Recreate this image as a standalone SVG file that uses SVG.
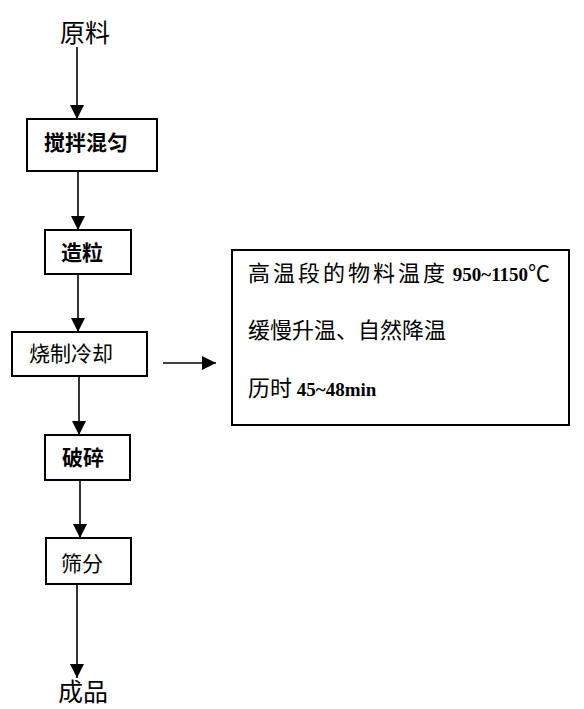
<svg xmlns="http://www.w3.org/2000/svg" width="584" height="709" viewBox="0 0 584 709">
<style>
.box{fill:#fff;stroke:#000;stroke-width:2}
.lbl{font-family:"Noto Sans CJK SC","Liberation Serif",serif;font-size:21px;fill:#000}
.big{font-family:"Noto Sans CJK SC","Liberation Serif",serif;font-size:25px;fill:#000}
.note{font-family:"Liberation Serif","Noto Sans CJK SC",serif;font-size:19px;font-weight:bold;fill:#000}
.cn{font-family:"Noto Sans CJK SC",sans-serif;font-size:22px;font-weight:normal}
.edge{stroke:#000;stroke-width:1.6;fill:none}
</style>
<defs>
<marker id="ah" markerUnits="userSpaceOnUse" markerWidth="14" markerHeight="14" refX="14" refY="7" orient="auto">
<path d="M0,0 L14,7 L0,14 Z" fill="#000"/>
</marker>
</defs>
<g id="connectors">
<line class="edge" x1="77" y1="47" x2="77" y2="119" marker-end="url(#ah)"/>
<line class="edge" x1="78" y1="171" x2="78" y2="230" marker-end="url(#ah)"/>
<line class="edge" x1="78" y1="274" x2="78" y2="332" marker-end="url(#ah)"/>
<line class="edge" x1="163" y1="363" x2="216" y2="363" marker-end="url(#ah)"/>
<line class="edge" x1="79" y1="376" x2="79" y2="435" marker-end="url(#ah)"/>
<line class="edge" x1="80" y1="480" x2="80" y2="538" marker-end="url(#ah)"/>
<line class="edge" x1="77" y1="584" x2="77" y2="678" marker-end="url(#ah)"/>
</g>
<g id="n-raw"><text class="big" x="85" y="42" text-anchor="middle">原料</text></g>
<g id="n-mix"><rect class="box" x="27" y="119" width="130" height="52"/><text class="lbl" x="86" y="150" text-anchor="middle" font-weight="bold">搅拌混匀</text></g>
<g id="n-gran"><rect class="box" x="45" y="230" width="86" height="44"/><text class="lbl" x="82" y="260" text-anchor="middle" font-weight="bold">造粒</text></g>
<g id="n-sinter"><rect class="box" x="12" y="332" width="135" height="44"/><text class="lbl" x="71" y="361" text-anchor="middle" font-size="22">烧制冷却</text></g>
<g id="n-crush"><rect class="box" x="45" y="435" width="85" height="45"/><text class="lbl" x="83" y="465" text-anchor="middle" font-weight="bold">破碎</text></g>
<g id="n-sieve"><rect class="box" x="46" y="538" width="85" height="46"/><text class="lbl" x="82" y="571" text-anchor="middle">筛分</text></g>
<g id="n-product"><text class="big" x="83" y="701" text-anchor="middle">成品</text></g>
<g id="n-note">
<rect class="box" x="232" y="250" width="337" height="175"/>
<text class="note" x="248" y="281"><tspan class="cn" letter-spacing="3">高温段的物料温度</tspan> 950~1150<tspan class="cn">℃</tspan></text>
<text class="note" x="248" y="338"><tspan class="cn">缓慢升温、自然降温</tspan></text>
<text class="note" x="248" y="396"><tspan class="cn">历时</tspan> 45~48min</text>
</g>
</svg>
